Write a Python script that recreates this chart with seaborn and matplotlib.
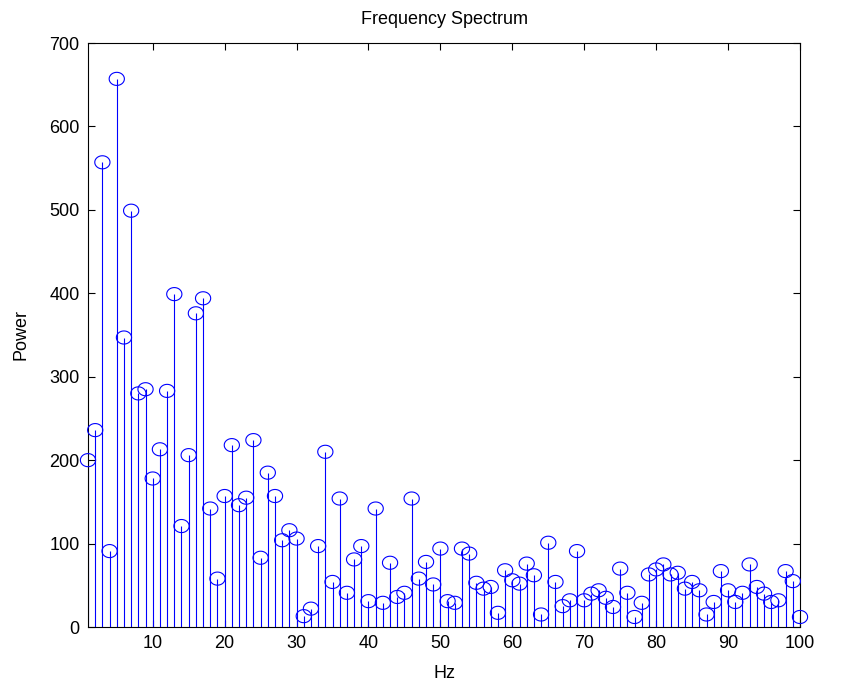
import numpy as np
import pandas as pd
import matplotlib
matplotlib.use("Agg")
import matplotlib.pyplot as plt
from matplotlib.path import Path
import seaborn as sns

# ---- data ----
hz = list(range(1, 101))
power = [
    200, 236, 557, 91, 657, 347, 499, 280, 285, 178,
    213, 283, 399, 121, 206, 376, 394, 142, 58, 157,
    218, 146, 155, 224, 83, 185, 157, 104, 116, 106,
    13, 22, 97, 210, 54, 154, 41, 81, 97, 31,
    142, 29, 77, 36, 41, 154, 58, 78, 51, 94,
    31, 29, 94, 88, 53, 46, 48, 17, 68, 56,
    52, 76, 62, 15, 101, 54, 25, 32, 91, 32,
    40, 44, 35, 24, 70, 41, 12, 29, 63, 69,
    75, 63, 65, 46, 54, 44, 15, 30, 67, 44,
    30, 41, 75, 48, 40, 30, 32, 67, 55, 12,
]
x_ticks = [10, 20, 30, 40, 50, 60, 70, 80, 90, 100]
y_ticks = [0, 100, 200, 300, 400, 500, 600, 700]
title = "Frequency Spectrum"
xlabel = "Hz"
ylabel = "Power"

df = pd.DataFrame({"Hz": hz, "Power": power})

sns.set_style("ticks")
plt.rcParams["font.family"] = ["Liberation Sans", "DejaVu Sans"]
plt.rcParams["text.color"] = "black"
plt.rcParams["axes.labelcolor"] = "black"

fig = plt.figure(figsize=(8.47, 6.90), dpi=100)
ax = fig.add_axes([88 / 847, 1 - 627 / 690, (800 - 88) / 847, (627 - 43) / 690])

blue = "#0000FF"
ax.vlines(df["Hz"], 0, df["Power"], color=blue, linewidth=0.8, zorder=2)

# slightly flattened circle like the MATLAB rendering
t = np.linspace(0, 2 * np.pi, 60)
ell = Path(np.column_stack([np.cos(t), 0.86 * np.sin(t)]), closed=True)
sns.scatterplot(data=df, x="Hz", y="Power", ax=ax, marker=ell, s=120,
                facecolor="none", edgecolor=blue, linewidth=0.8,
                zorder=3, clip_on=False, legend=False)

ax.set_xlim(1, 100)
ax.set_ylim(0, 700)
ax.set_xticks(x_ticks)
ax.set_yticks(y_ticks)
ax.tick_params(direction="in", length=5, width=0.8, top=True, right=True,
               labelsize=13, colors="black", pad=6)
for s in ax.spines.values():
    s.set_visible(True)
    s.set_linewidth(0.8)
    s.set_color("black")

ax.set_title(title, fontsize=13, pad=14, color="black")
ax.set_xlabel(xlabel, fontsize=13, labelpad=9, color="black")
ax.set_ylabel(ylabel, fontsize=13, labelpad=14, color="black")

fig.savefig("out.png", dpi=100, facecolor="white")
